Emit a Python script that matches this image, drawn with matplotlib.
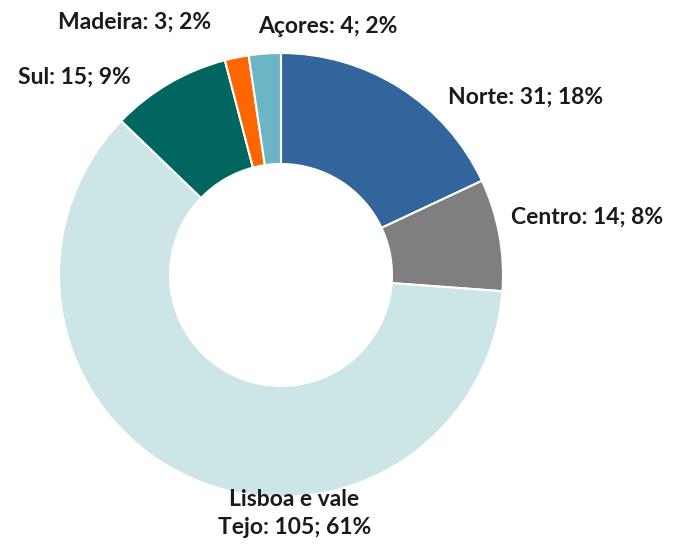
import matplotlib.pyplot as plt

regions = ["Norte", "Centro", "Lisboa e vale\nTejo", "Sul", "Madeira", "Açores"]
counts = [31, 14, 105, 15, 3, 4]
pcts = [18, 8, 61, 9, 2, 2]
colors = ["#31659C", "#7F7F7F", "#CCE5E6", "#00665F", "#FF6600", "#6BB5C5"]

# label positions in data units (pie radius = 1)
label_pos = [(1.10, 0.80), (1.38, 0.26), (0.06, -1.075), (-0.93, 0.89), (-0.66, 1.14), (0.21, 1.12)]

plt.rcParams['font.family'] = ['Lato', 'DejaVu Sans']

fig = plt.figure(figsize=(6.79, 5.46), dpi=100)
ax = fig.add_axes([59 / 679, 49 / 546, 444 / 679, 444 / 546])

ax.pie(counts, colors=colors, startangle=90, counterclock=False, radius=1,
       wedgeprops=dict(width=0.5, edgecolor="white", linewidth=1.5))

for name, c, p, (x, y) in zip(regions, counts, pcts, label_pos):
    ax.text(x, y, f"{name}: {c}; {p}%", ha="center", va="center",
            fontsize=16.5, fontweight="bold", color="#1a1a1a", linespacing=1.4)

ax.set_xlim(-1, 1)
ax.set_ylim(-1, 1)
ax.set_aspect("equal")
ax.axis("off")

fig.savefig("out.png", dpi=100)
